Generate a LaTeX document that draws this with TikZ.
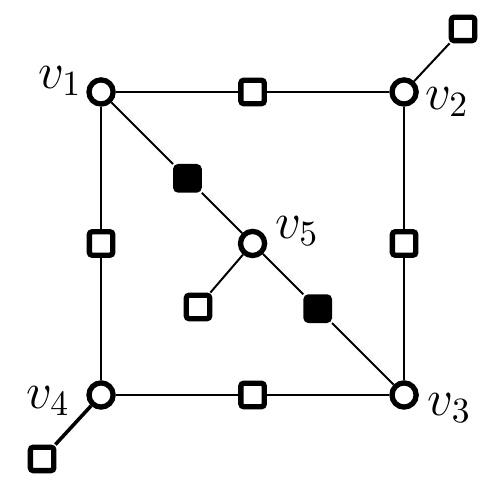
\documentclass[tikz,border=0pt]{standalone}
\usetikzlibrary{positioning}
\tikzset{
  vert/.style={draw=black,fill=white,circle,line width=1.5pt,
               inner sep=0pt,minimum size=6.8pt},
  opensq/.style={draw=black,fill=white,rectangle,rounded corners=0.8pt,
                 line width=1.5pt,inner sep=0pt,minimum size=6.6pt},
  fullsq/.style={opensq,fill=black},
  link/.style={line width=0.56pt},
  boldlink/.style={line width=1pt},
  vname/.style={inner sep=0pt,font=\Large}
}
\begin{document}
\begin{tikzpicture}[x=1.5cm,y=1.5cm]
  \useasboundingbox (-0.667,-0.607) rectangle (2.620,2.607);

  \node[vert] (v1) at (0,2) {};
  \node[vert] (v2) at (2,2) {};
  \node[vert] (v3) at (2,0) {};
  \node[vert] (v4) at (0,0) {};
  \node[vert] (v5) at (1,1) {};

  \node[opensq] (s12) at (1,2) {};
  \node[opensq] (s23) at (2,1) {};
  \node[opensq] (s34) at (1,0) {};
  \node[opensq] (s14) at (0,1) {};
  \node[opensq] (s2) at (2.389,2.416) {};
  \node[opensq] (s4) at (-0.389,-0.422) {};
  \node[opensq] (s5) at (0.640,0.581) {};
  \node[fullsq] (f15) at (0.57,1.43) {};
  \node[fullsq] (f35) at (1.43,0.57) {};

  \draw[link] (v1) -- (s12);
  \draw[link] (s12) -- (v2);
  \draw[link] (v2) -- (s23);
  \draw[link] (s23) -- (v3);
  \draw[link] (v3) -- (s34);
  \draw[link] (s34) -- (v4);
  \draw[link] (v4) -- (s14);
  \draw[link] (s14) -- (v1);
  \draw[link] (v1) -- (f15);
  \draw[link] (f15) -- (v5);
  \draw[link] (v5) -- (f35);
  \draw[link] (f35) -- (v3);
  \draw[link] (v5) -- (s5);
  \draw[link] (v2) -- (s2);
  \draw[boldlink] (v4) -- (s4);

  \node[vname] (l1) at (-0.271,2.073) {$v_1$};
  \node[vname] (l2) at (2.284,1.934) {$v_2$};
  \node[vname] (l3) at (2.300,-0.086) {$v_3$};
  \node[vname] (l4) at (-0.350,-0.040) {$v_4$};
  \node[vname] (l5) at (1.294,1.083) {$v_5$};
\end{tikzpicture}
\end{document}
